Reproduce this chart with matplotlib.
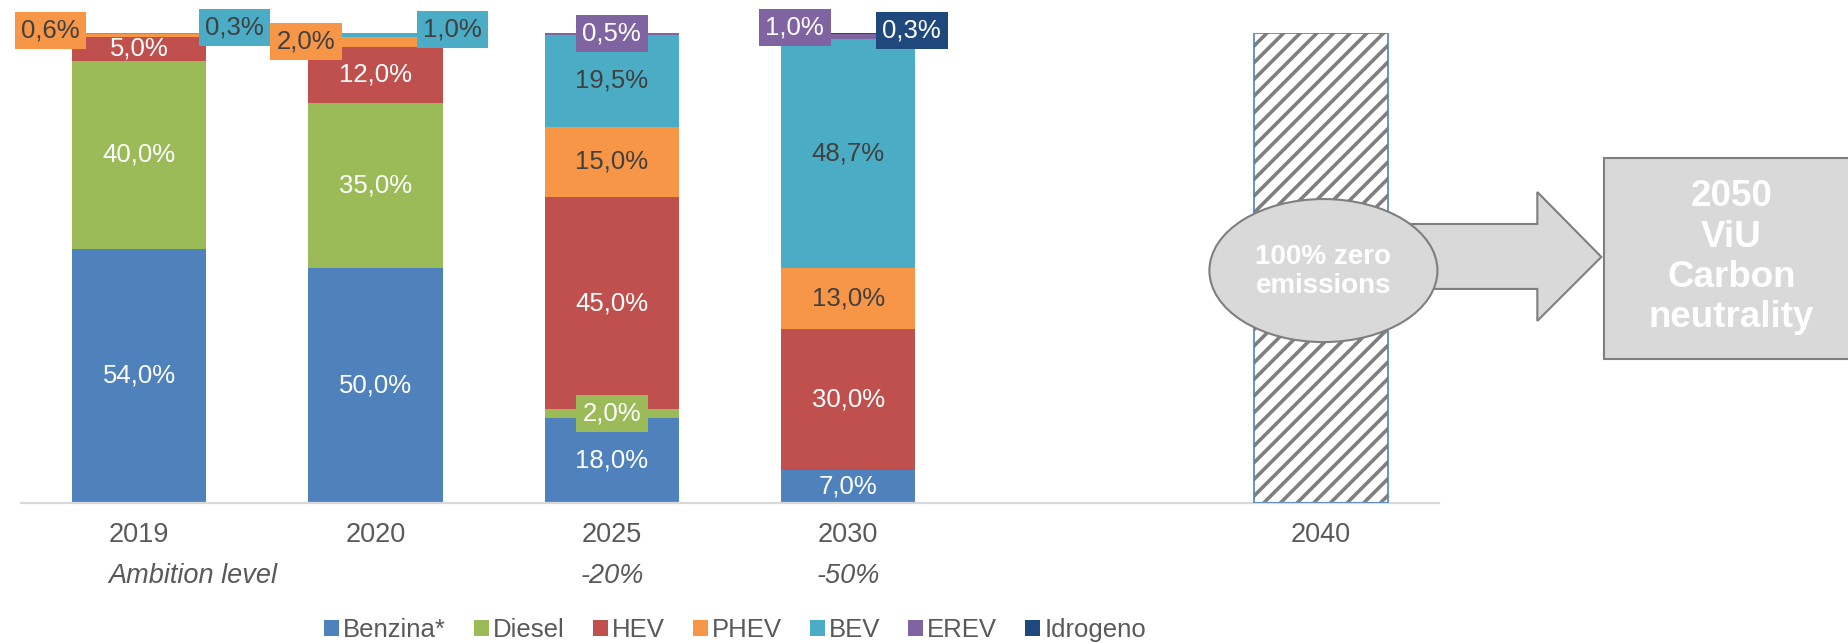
import matplotlib
matplotlib.use("Agg")
import matplotlib.pyplot as plt
from matplotlib.patches import Ellipse, Polygon, Rectangle

plt.rcParams.update({
    "font.family": ["Liberation Sans", "DejaVu Sans"],
    "hatch.linewidth": 2.6,
})

# ---- data ----
YEARS = ["2019", "2020", "2025", "2030", "2040"]
AMBITION = ["Ambition level", "", "-20%", "-50%"]
SERIES = ["Benzina*", "Diesel", "HEV", "PHEV", "BEV", "EREV", "Idrogeno"]
benzina = [54.0, 50.0, 18.0, 7.0]
diesel = [40.0, 35.0, 2.0, 0.0]
hev = [5.0, 12.0, 45.0, 30.0]
phev = [0.6, 2.0, 15.0, 13.0]
bev = [0.3, 1.0, 19.5, 48.7]
erev = [0.0, 0.0, 0.5, 1.0]
idrogeno = [0.0, 0.0, 0.0, 0.3]
target_2040 = 100.0

# ---- style / layout ----
SLOTS = [0, 1, 2, 3, 5]
COLORS = ["#4F81BD", "#9BBB59", "#C0504D", "#F79646", "#4BACC6", "#8064A2", "#1F497D"]
INNER_TXT = ["white", "white", "white", "#404040", "#404040", "white", "white"]
BOX_TXT = ["white", "white", "white", "#404040", "#404040", "white", "white"]
GRAY_TXT = "#595959"
# small values get a coloured call-out box: (bar, series) -> (dx, dy)
BOX_OFF = {(0, 3): (-0.375, 1.1), (0, 4): (0.404, 1.3),
           (1, 3): (-0.294, 0.1), (1, 4): (0.326, 1.1),
           (2, 5): (0.0, 0.0), (2, 1): (0.0, 0.0),
           (3, 5): (-0.226, 1.9), (3, 6): (0.269, 0.55)}
W = 0.567


def pct(v):
    return f"{v:.1f}".replace(".", ",") + "%"


fig = plt.figure(figsize=(18.48, 6.43), dpi=100)
ax = fig.add_axes([21 / 1848, 140 / 643, 1418 / 1848, 470.5 / 643])
ax.set_xlim(-0.5, 5.5)
ax.set_ylim(0, 100)

data = [benzina, diesel, hev, phev, bev, erev, idrogeno]
xs = SLOTS[:4]
bottom = [0.0] * 4
handles = []
for si, (name, vals) in enumerate(zip(SERIES, data)):
    h = ax.bar(xs, vals, W, bottom=bottom, color=COLORS[si], label=name, zorder=2)
    handles.append(h)
    for bi, v in enumerate(vals):
        if v <= 0:
            continue
        yc = bottom[bi] + v / 2
        if (bi, si) in BOX_OFF:
            dx, dy = BOX_OFF[(bi, si)]
            ax.text(xs[bi] + dx, yc + dy, pct(v), ha="center", va="center", fontsize=18.5,
                    color=BOX_TXT[si], zorder=5, clip_on=False,
                    bbox=dict(boxstyle="square,pad=0.25", fc=COLORS[si], ec="none"))
        else:
            ax.text(xs[bi], yc, pct(v), ha="center", va="center", fontsize=18.5,
                    color=INNER_TXT[si], zorder=4)
    bottom = [b + v for b, v in zip(bottom, vals)]

# 2040 hatched target bar
x40 = SLOTS[4]
ax.bar(x40, target_2040, W, color="white", edgecolor="#7F7F7F", hatch="//", linewidth=0, zorder=2)
ax.bar(x40, target_2040, W, fill=False, edgecolor="#4F81BD", linewidth=1.2, zorder=3)

# arrow -> 2050 box (drawn outside the axes area)
arrow = Polygon([(x40, 59.3), (x40 + 0.916, 59.3), (x40 + 0.916, 66.1), (x40 + 1.187, 52.3),
                 (x40 + 0.916, 38.7), (x40 + 0.916, 45.5), (x40, 45.5)],
                closed=True, fc="#D9D9D9", ec="#7F7F7F", lw=1.5, zorder=6, clip_on=False)
ax.add_patch(arrow)
ell = Ellipse((x40 + 0.011, 49.4), 0.965, 30.4, fc="#D9D9D9", ec="#7F7F7F", lw=1.5,
              zorder=7, clip_on=False)
ax.add_patch(ell)
ax.text(x40 + 0.01, 49.2, "100% zero\nemissions", ha="center", va="center", fontsize=20,
        fontweight="bold", color="white", zorder=8, linespacing=1.15)
box = Rectangle((x40 + 1.2, 30.6), 1.075, 42.7, fc="#D9D9D9", ec="#7F7F7F", lw=1.5,
                zorder=6, clip_on=False)
ax.add_patch(box)
ax.text(x40 + 1.737, 52.2, "2050\nViU\nCarbon\nneutrality", ha="center", va="center",
        fontsize=26.5, fontweight="bold", color="white", zorder=8, linespacing=1.2)

# axes styling
for s in ("top", "left", "right"):
    ax.spines[s].set_visible(False)
ax.spines["bottom"].set_color("#D9D9D9")
ax.spines["bottom"].set_linewidth(1.6)
ax.set_yticks([])
ax.set_xticks(SLOTS, YEARS)
ax.tick_params(axis="x", length=0, pad=14, labelsize=19.5, labelcolor=GRAY_TXT)

# ambition level row
trans = ax.get_xaxis_transform()
ax.text(xs[0] - 0.13, -0.155, AMBITION[0], transform=trans, ha="left", va="center",
        fontsize=19.5, style="italic", color=GRAY_TXT)
for bi in (2, 3):
    ax.text(xs[bi], -0.155, AMBITION[bi], transform=trans, ha="center", va="center",
            fontsize=19.5, style="italic", color=GRAY_TXT)

fig.legend(handles=handles, labels=SERIES, loc="center", bbox_to_anchor=(735 / 1848, 13 / 643),
           ncol=7, frameon=False, fontsize=18.5, handlelength=0.58, handleheight=0.58,
           handletextpad=0.16, columnspacing=1.09, labelcolor=GRAY_TXT, borderpad=0)

fig.savefig("out.png", dpi=100)
